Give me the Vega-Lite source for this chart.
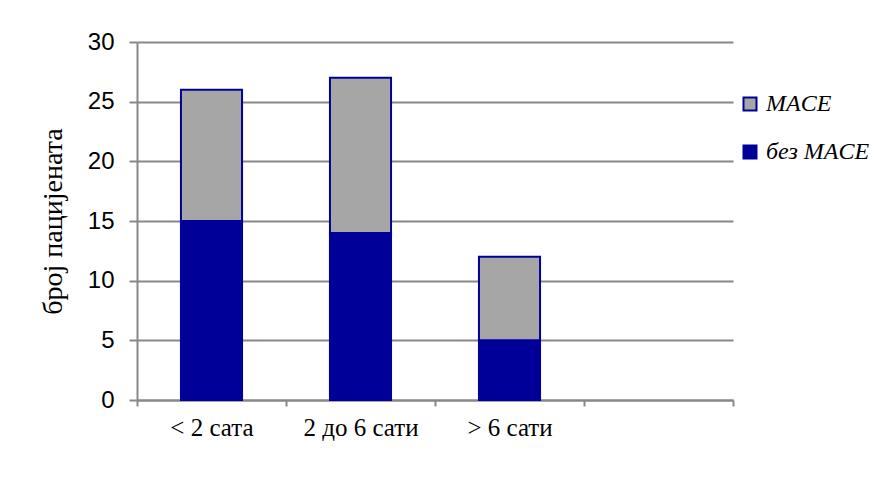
{
  "$schema": "https://vega.github.io/schema/vega-lite/v6.json",
  "width": 596,
  "height": 358,
  "autosize": {"type": "none"},
  "padding": {"left": 137, "top": 42, "right": 145, "bottom": 102},
  "background": "white",
  "config": {"view": {"stroke": null}},
  "data": {
    "values": [
      {"cat": "< 2 сата", "group": "без MACE", "value": 15},
      {"cat": "< 2 сата", "group": "MACE", "value": 11},
      {"cat": "2 до 6 сати", "group": "без MACE", "value": 14},
      {"cat": "2 до 6 сати", "group": "MACE", "value": 13},
      {"cat": "> 6 сати", "group": "без MACE", "value": 5},
      {"cat": "> 6 сати", "group": "MACE", "value": 7}
    ]
  },
  "mark": {"type": "bar", "stroke": "#000099", "strokeWidth": 2, "width": {"band": 0.41}},
  "encoding": {
    "x": {
      "field": "cat",
      "type": "nominal",
      "sort": null,
      "scale": {"domain": ["< 2 сата", "2 до 6 сати", "> 6 сати", " "], "paddingInner": 0, "paddingOuter": 0},
      "axis": {
        "title": null,
        "labelAngle": 0,
        "labelFont": "Liberation Serif",
        "labelFontSize": 25,
        "labelColor": "black",
        "labelPadding": 9,
        "tickBand": "extent",
        "tickSize": 6,
        "tickColor": "#888888",
        "tickWidth": 2,
        "domainColor": "#888888",
        "domainWidth": 2,
        "grid": false
      }
    },
    "y": {
      "field": "value",
      "type": "quantitative",
      "aggregate": "sum",
      "stack": "zero",
      "scale": {"domain": [0, 30], "nice": false},
      "axis": {
        "title": "број пацијената",
        "titleFont": "Liberation Serif",
        "titleFontSize": 28,
        "titleFontWeight": "normal",
        "titleColor": "black",
        "titlePadding": 20,
        "values": [0, 5, 10, 15, 20, 25, 30],
        "labelFont": "Liberation Sans",
        "labelFontSize": 24,
        "labelColor": "black",
        "labelPadding": 15,
        "tickSize": 8,
        "tickColor": "#888888",
        "tickWidth": 2,
        "domainColor": "#888888",
        "domainWidth": 2,
        "grid": true,
        "gridColor": "#888888",
        "gridWidth": 2
      }
    },
    "color": {
      "field": "group",
      "type": "nominal",
      "scale": {"domain": ["MACE", "без MACE"], "range": ["#A6A6A6", "#000099"]},
      "legend": {
        "title": null,
        "orient": "none",
        "legendX": 601,
        "legendY": 50,
        "symbolType": "square",
        "symbolSize": 169,
        "symbolStrokeColor": "#000099",
        "symbolStrokeWidth": 2,
        "symbolOpacity": 1,
        "labelFont": "Liberation Serif",
        "labelFontStyle": "italic",
        "labelFontSize": 24,
        "labelColor": "black",
        "labelOffset": 4,
        "rowPadding": 24
      }
    },
    "order": {"field": "group", "sort": "descending"}
  }
}
